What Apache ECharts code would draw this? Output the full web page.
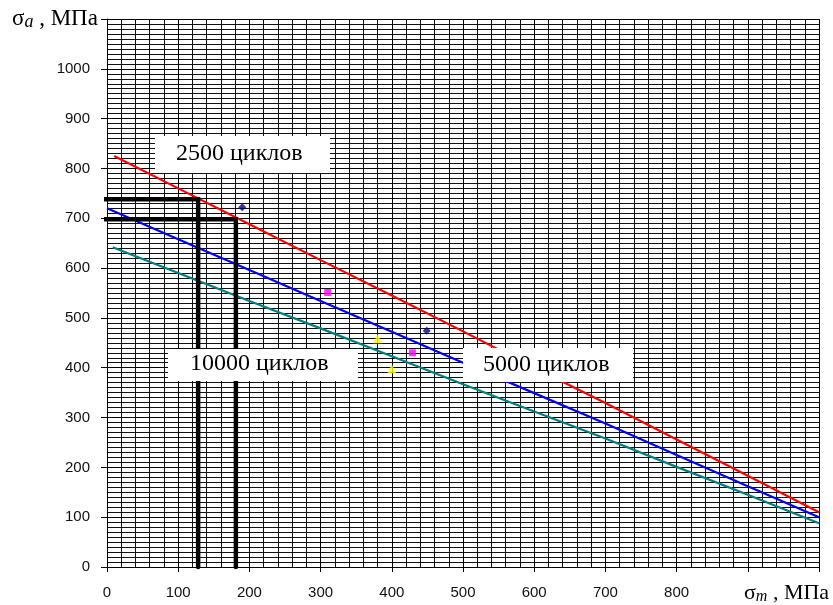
<!DOCTYPE html>
<html>
<head>
<meta charset="utf-8">
<script src="https://cdn.jsdelivr.net/npm/echarts@6/dist/echarts.min.js"></script>
<style>
  html, body { margin: 0; padding: 0; background: #fff; }
  #chart { width: 833px; height: 605px; }
</style>
</head>
<body>
<div id="chart"></div>
<script>
// sigma_m values along each curve
const xRed = [10, 100, 200, 300, 400, 500, 600, 700, 800, 900, 1000];
const yRed = [825, 760, 688, 616, 545, 473, 400, 329, 256, 183, 110];
const xBlue = [0, 100, 200, 300, 400, 500, 600, 700, 800, 900, 1000];
const yBlue = [720, 658, 596, 534, 472, 410, 349, 288, 225, 162, 100];
const xTeal = [8, 100, 200, 300, 400, 500, 600, 700, 800, 900, 1000];
const yTeal = [642, 590, 534, 479, 423, 367, 312, 258, 201, 145, 88];

// experimental points
const navyPts = [[190, 722], [449, 474]];
const magentaPts = [[310, 551], [429, 430]];
const yellowPts = [[380, 458], [400, 398]];

// reading guides
const guide740 = [[-9, 738], [128, 738], [128, 0]];
const guide700 = [[-9, 698], [181, 698], [181, 0]];

const xTickLabels = ['0', '100', '200', '300', '400', '500', '600', '700', '800'];
const yTickLabels = ['0', '100', '200', '300', '400', '500', '600', '700', '800', '900', '1000'];

const zip = (xs, ys) => xs.map((x, i) => [x, ys[i]]);

const chart = echarts.init(document.getElementById('chart'));

const labelFont = 'Arial, "Liberation Sans", sans-serif';
const serif = '"Times New Roman", "Liberation Serif", serif';

chart.setOption({
  animation: false,
  grid: { left: 107, right: 14, top: 19, bottom: 38 },
  xAxis: {
    type: 'value', min: 0, max: 1000, interval: 100,
    axisLine: { lineStyle: { color: '#000', width: 1 } },
    axisTick: { show: true, length: 5, lineStyle: { color: '#000' } },
    axisLabel: {
      margin: 18, fontSize: 15, color: '#111', fontFamily: labelFont,
      formatter: v => (xTickLabels.includes(String(v)) ? String(v) : '')
    },
    splitLine: { show: true, lineStyle: { color: '#000', width: 1 } },
    minorTick: { show: false, splitNumber: 5 },
    minorSplitLine: { show: true, lineStyle: { color: '#111', width: 1 } }
  },
  yAxis: {
    type: 'value', min: 0, max: 1100, interval: 100,
    axisLine: { show: true, lineStyle: { color: '#000', width: 1 } },
    axisTick: { show: true, length: 6, lineStyle: { color: '#000' } },
    axisLabel: {
      margin: 17, fontSize: 15, color: '#111', fontFamily: labelFont,
      formatter: v => (yTickLabels.includes(String(v)) ? String(v) : '')
    },
    splitLine: { show: true, lineStyle: { color: '#000', width: 1 } },
    minorTick: { show: false, splitNumber: 10 },
    minorSplitLine: { show: true, lineStyle: { color: '#111', width: 1 } }
  },
  series: [
    { type: 'line', data: zip(xRed, yRed), showSymbol: false, lineStyle: { color: '#ff0000', width: 2.2 }, z: 3 },
    { type: 'line', data: zip(xBlue, yBlue), showSymbol: false, lineStyle: { color: '#0000ff', width: 2.2 }, z: 3 },
    { type: 'line', data: zip(xTeal, yTeal), showSymbol: false, lineStyle: { color: '#008080', width: 2.2 }, z: 3 },
    { type: 'line', data: guide740, showSymbol: false, clip: false, lineStyle: { color: '#000', width: 4.5, cap: 'round', join: 'miter' }, z: 4 },
    { type: 'line', data: guide700, showSymbol: false, clip: false, lineStyle: { color: '#000', width: 4.5, cap: 'round', join: 'miter' }, z: 4 },
    { type: 'scatter', data: navyPts, symbol: 'diamond', symbolSize: 8, itemStyle: { color: '#000080' }, z: 5 },
    { type: 'scatter', data: magentaPts, symbol: 'rect', symbolSize: 7, itemStyle: { color: '#ff00ff' }, z: 5 },
    { type: 'scatter', data: yellowPts, symbol: 'triangle', symbolSize: 9, itemStyle: { color: '#ffff00' }, z: 5 }
  ],
  graphic: [
    { type: 'rect', z: 100, shape: { x: 155, y: 136, width: 175, height: 37 }, style: { fill: '#fff' } },
    { type: 'text', z: 101, style: { x: 176, y: 154, text: '2500 циклов', font: '24px ' + serif, fill: '#000', textVerticalAlign: 'middle' } },
    { type: 'rect', z: 100, shape: { x: 168, y: 349, width: 190, height: 32 }, style: { fill: '#fff' } },
    { type: 'text', z: 101, style: { x: 190, y: 364, text: '10000 циклов', font: '24px ' + serif, fill: '#000', textVerticalAlign: 'middle' } },
    { type: 'rect', z: 100, shape: { x: 463, y: 348, width: 170, height: 34 }, style: { fill: '#fff' } },
    { type: 'text', z: 101, style: { x: 483, y: 365, text: '5000 циклов', font: '24px ' + serif, fill: '#000', textVerticalAlign: 'middle' } },
    {
      type: 'text', z: 101,
      style: {
        x: 12, y: 19, textVerticalAlign: 'middle', fill: '#000',
        text: '{s|σ}{i|a}{n| , МПа}',
        rich: {
          s: { font: '23px ' + serif, fill: '#000' },
          i: { font: 'italic 18px ' + serif, fill: '#000', padding: [7, 0, 0, 0] },
          n: { font: '23px ' + serif, fill: '#000' }
        }
      }
    },
    {
      type: 'rect', z: 100, shape: { x: 735, y: 578, width: 98, height: 27 }, style: { fill: '#fff' }
    },
    {
      type: 'text', z: 101,
      style: {
        x: 744, y: 593, textVerticalAlign: 'middle', fill: '#000',
        text: '{s|σ}{i|m}{n| , МПа}',
        rich: {
          s: { font: '22px ' + serif, fill: '#000' },
          i: { font: 'italic 16px ' + serif, fill: '#000', padding: [7, 0, 0, 0] },
          n: { font: '22px ' + serif, fill: '#000' }
        }
      }
    }
  ]
});
</script>
</body>
</html>
